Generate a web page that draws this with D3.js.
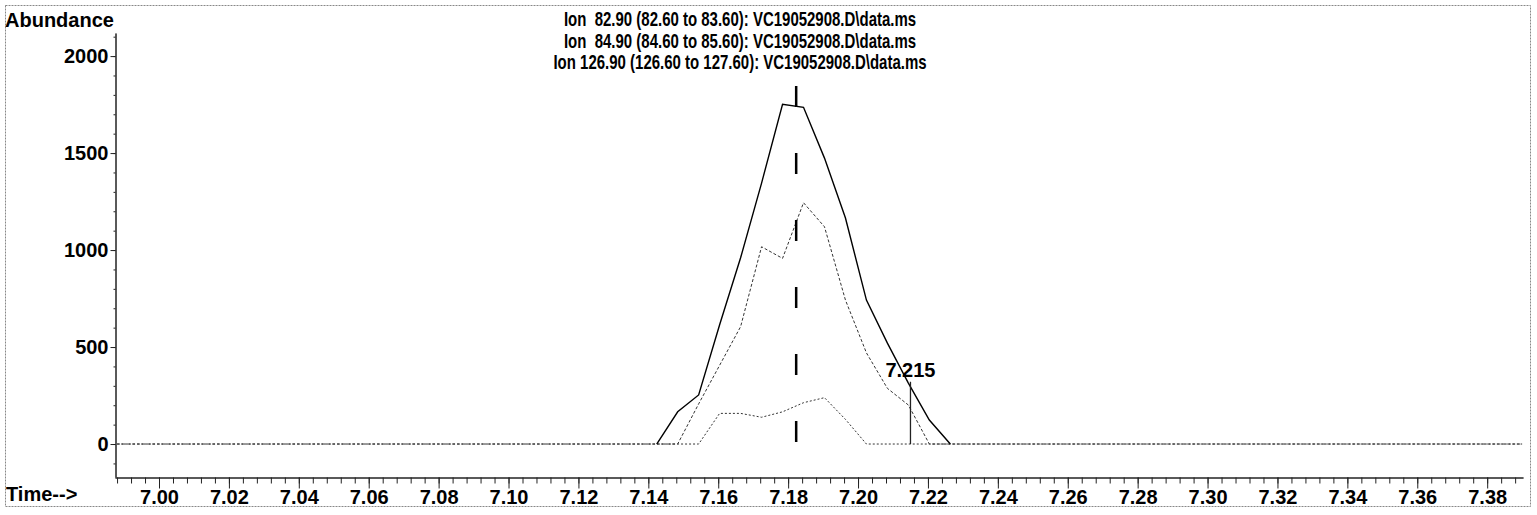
<!DOCTYPE html>
<html>
<head>
<meta charset="utf-8">
<script src="https://cdn.jsdelivr.net/npm/d3@7"></script>
<style>
  html, body { margin: 0; padding: 0; background: #fff; }
  svg { display: block; font-family: "Liberation Sans", Arial, Helvetica, sans-serif; font-weight: bold; }
</style>
</head>
<body>
<svg id="chart" width="1537" height="515"></svg>
<script>
// Extracted ion chromatograms: abundance against retention time (min)
const scanTimes = [7.1424, 7.1484, 7.1544, 7.1604, 7.1664, 7.1724, 7.1784, 7.1844, 7.1904, 7.1964, 7.2024, 7.2084, 7.2144, 7.2204, 7.2264];
const ion82 = [0, 166, 253, 615, 960, 1345, 1751, 1736, 1474, 1165, 742, 520, 314, 124, 0];
const ion84 = [0, 0, 207, 406, 605, 1017, 957, 1244, 1120, 742, 470, 287, 201, 0, 0];
const ion126 = [0, 0, 0, 158, 158, 138, 166, 213, 239, 127, 0, 0, 0, 0, 0];
const scanRange = [6.988, 7.390];

const titleLines = [
  "Ion  82.90 (82.60 to 83.60): VC19052908.D\\data.ms",
  "Ion  84.90 (84.60 to 85.60): VC19052908.D\\data.ms",
  "Ion 126.90 (126.60 to 127.60): VC19052908.D\\data.ms"
];
const yTicks = [0, 500, 1000, 1500, 2000];
const xTicks = [7.00, 7.02, 7.04, 7.06, 7.08, 7.10, 7.12, 7.14, 7.16, 7.18, 7.20, 7.22, 7.24, 7.26, 7.28, 7.30, 7.32, 7.34, 7.36, 7.38];

// expected retention time window marker and integrated peak marker
const expectedRT = 7.1823, expectedTop = 1860;
const peakRT = 7.215, peakTop = 321, peakLabel = "7.215";

const svg = d3.select("#chart");
const W = 1537, H = 515;
svg.append("rect").attr("width", W).attr("height", H).attr("fill", "#fff");

// frame around the whole printout
svg.append("rect")
  .attr("x", 5.5).attr("y", 5.5).attr("width", 1525).attr("height", 501)
  .attr("fill", "none").attr("stroke", "#888").attr("stroke-width", 1)
  .attr("stroke-dasharray", "2,1");

const x = d3.scaleLinear().domain([6.98741, 7.39025]).range([115, 1523]);
const y = d3.scaleLinear().domain([-170, 2119]).range([477, 33]);

// y axis: major + minor ticks
const yAxisG = svg.append("g").attr("transform", "translate(115.5,0)");
yAxisG.call(d3.axisLeft(y).tickValues(d3.range(-100, 2101, 100)).tickSize(2).tickSizeOuter(0).tickFormat(""));
yAxisG.append("g").call(d3.axisLeft(y).tickValues(yTicks).tickSize(5).tickSizeOuter(0).tickPadding(2).tickFormat(d3.format("d")));
yAxisG.selectAll("path.domain").attr("stroke", "#222");
yAxisG.selectAll("line").attr("stroke", "#222");
yAxisG.selectAll("text").attr("font-size", 20).attr("font-weight", "bold").attr("fill", "#000")
  .attr("font-family", "Liberation Sans, Arial, sans-serif");

// x axis: major + minor ticks
const xAxisG = svg.append("g").attr("transform", "translate(0,477.5)");
xAxisG.call(d3.axisBottom(x).tickValues(d3.range(6.988, 7.3901, 0.004)).tickSize(6).tickSizeOuter(0).tickFormat(""));
xAxisG.append("g").call(d3.axisBottom(x).tickValues(xTicks).tickSize(11).tickSizeOuter(0).tickPadding(1).tickFormat(d3.format(".2f")));
xAxisG.selectAll("path.domain").attr("stroke", "#222");
xAxisG.selectAll("line").attr("stroke", "#222");
xAxisG.selectAll("text").attr("font-size", 20).attr("font-weight", "bold").attr("fill", "#000")
  .attr("font-family", "Liberation Sans, Arial, sans-serif");

// axis captions
svg.append("text").attr("x", 5).attr("y", 27).attr("font-size", 20).text("Abundance");
svg.append("text").attr("x", 6).attr("y", 501).attr("font-size", 20).text("Time-->");

// header lines, printed in a condensed face
svg.append("g").selectAll("text").data(titleLines).join("text")
  .attr("transform", (d, i) => `translate(740,${26 + i * 21.5}) scale(0.75,1)`)
  .attr("text-anchor", "middle").attr("font-size", 20)
  .attr("xml:space", "preserve").style("white-space", "pre")
  .text(d => d);

const line = d3.line().x(d => x(d[0])).y(d => y(d[1]));
const withRange = vals => [[scanRange[0], 0], ...scanTimes.map((t, i) => [t, vals[i]]), [scanRange[1], 0]];

// ion 126.90 trace
svg.append("path").datum(withRange(ion126))
  .attr("d", line).attr("fill", "none").attr("stroke", "#333")
  .attr("stroke-width", 1).attr("stroke-dasharray", "2,2");
// ion 84.90 trace
svg.append("path").datum(withRange(ion84))
  .attr("d", line).attr("fill", "none").attr("stroke", "#333")
  .attr("stroke-width", 1).attr("stroke-dasharray", "3,2");
// ion 82.90 trace
svg.append("path").datum(scanTimes.map((t, i) => [t, ion82[i]]))
  .attr("d", line).attr("fill", "none").attr("stroke", "#000")
  .attr("stroke-width", 1.4);

// expected retention time (dashed)
svg.append("line")
  .attr("x1", x(expectedRT)).attr("x2", x(expectedRT))
  .attr("y1", y(0) - 2).attr("y2", y(expectedTop))
  .attr("stroke", "#000").attr("stroke-width", 2.5).attr("stroke-dasharray", "21,46");

// integration marker
svg.append("line")
  .attr("x1", x(peakRT)).attr("x2", x(peakRT))
  .attr("y1", y(0)).attr("y2", y(peakTop))
  .attr("stroke", "#222").attr("stroke-width", 1.3);
svg.append("text").attr("x", x(peakRT)).attr("y", y(peakTop) - 5)
  .attr("text-anchor", "middle").attr("font-size", 20).text(peakLabel);
</script>
</body>
</html>
